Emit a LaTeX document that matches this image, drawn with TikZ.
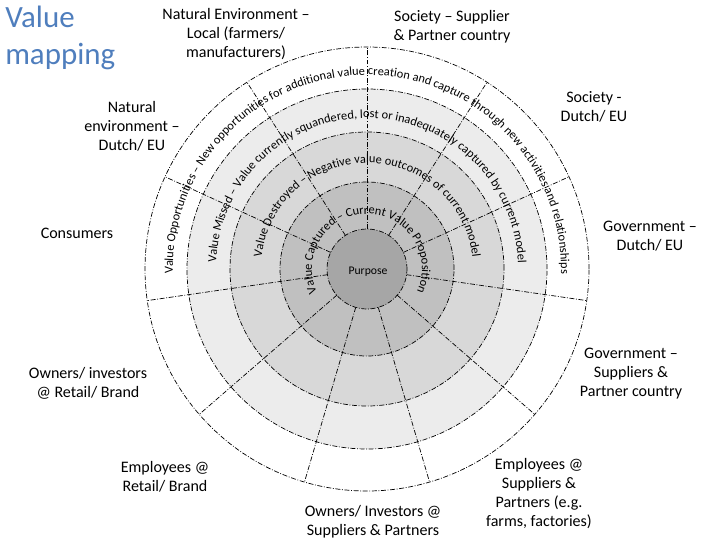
\documentclass[tikz,border=0pt]{standalone}
\usepackage{fontspec}
\setmainfont{Carlito}
\usetikzlibrary{decorations.text}
\definecolor{titleblue}{RGB}{79,126,189}
\definecolor{purposegray}{RGB}{166,166,166}
\definecolor{capturedgray}{RGB}{192,192,192}
\definecolor{destroyedgray}{RGB}{216,216,216}
\definecolor{missedgray}{RGB}{236,236,236}

\begin{document}
\begin{tikzpicture}[x=0.025cm,y=0.025cm,
  ring/.style={line width=0.5pt,dash pattern=on 3.5pt off 1.2pt on 0.6pt off 1.2pt},
  stake/.style={font=\fontsize{11.4}{13.5}\selectfont,align=center},
  ringtext/.style={decorate,decoration={text along path,text align=center,
    text={|\fontsize{8.8}{10}\selectfont|#1}}}]
\useasboundingbox (-367,-271) rectangle (353,269);
\coordinate (O) at (0,0);
\fill[missedgray] (O) circle (180);
\fill[destroyedgray] (O) circle (137);
\fill[capturedgray] (O) circle (87);
\fill[purposegray] (O) circle (40);
\foreach \k in {0,...,10}
  \draw[ring] ({90-\k*360/11}:40) -- ({90-\k*360/11}:222);
\foreach \r in {40,87,137,180,222}
  \draw[ring] (O) circle (\r);
\path[ringtext={Value Captured – Current Value Proposition}] (250:55) arc[start angle=250,end angle=-70,radius=55];
\path[ringtext={Value Destroyed – Negative value outcomes of current model}] (250:106) arc[start angle=250,end angle=-70,radius=106];
\path[ringtext={Value Missed – Value currently squandered, lost or inadequately captured by current model}] (250:151) arc[start angle=250,end angle=-70,radius=151];
\path[ringtext={Value Opportunities – New opportunities for additional value creation and capture through new activities and relationships}] (250:194) arc[start angle=250,end angle=-70,radius=194];
\node[font=\fontsize{8.3}{10}\selectfont] (purpose) at (1,-3) {Purpose};
\node[anchor=west,align=left,text=titleblue,font=\fontsize{22}{26.2}\selectfont,inner sep=0pt] (title) at (-362,231) {Value\\mapping};
\node[stake] (natlocal) at (-131,235) {Natural Environment –\\Local (farmers/\\manufacturers)};
\node[stake] (socsupp) at (85,242) {Society – Supplier\\\& Partner country};
\node[stake] (socdutch) at (227,162) {Society -\\Dutch/ EU};
\node[stake] (natdutch) at (-235,143) {Natural\\environment –\\Dutch/ EU};
\node[stake] (consumers) at (-290,36) {Consumers};
\node[stake] (govdutch) at (283,33) {Government –\\Dutch/ EU};
\node[stake] (govsupp) at (264,-105) {Government –\\Suppliers \&\\Partner country};
\node[stake] (ownretail) at (-279,-114) {Owners/ investors\\@ Retail/ Brand};
\node[stake] (empretail) at (-202,-208) {Employees @\\Retail/ Brand};
\node[stake] (ownsupp) at (6,-253) {Owners/ Investors @\\Suppliers \& Partners};
\node[stake] (empsupp) at (172,-225) {Employees @\\Suppliers \&\\Partners (e.g.\\farms, factories)};
\end{tikzpicture}
\end{document}
